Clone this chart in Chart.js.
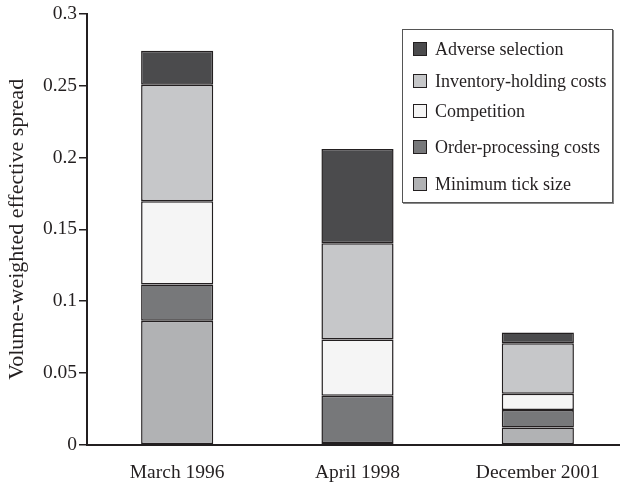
<!DOCTYPE html>
<html>
<head>
<meta charset="utf-8">
<script src="https://cdn.jsdelivr.net/npm/chart.js@4"></script>
<style>
  html, body { margin: 0; padding: 0; background: #fff; overflow: hidden; }
  #wrap { position: relative; width: 628px; height: 483px; }
  #legend {
    position: absolute; left: 402px; top: 29px; width: 209px; height: 172px;
    border: 1.5px solid #555; box-shadow: 1px 1px 0 #888;
    font-family: "Liberation Serif", "DejaVu Serif", serif; font-size: 18px; color: #231f20;
  }
  .item { position: absolute; left: 10px; display: flex; align-items: center; line-height: 20px; }
  .swatch { width: 12px; height: 12px; border: 1.5px solid #231f20; margin-right: 8px; }
</style>
</head>
<body>
<div id="wrap">
  <canvas id="myChart"></canvas>
  <div id="legend"></div>
</div>
<script>
// categories and values
const periods = ['March 1996', 'April 1998', 'December 2001'];
const minTick = [0.0865, 0.0014, 0.0122];
const orderProcessing = [0.0252, 0.0328, 0.0122];
const competition = [0.0579, 0.0391, 0.0112];
const inventoryHolding = [0.0809, 0.0670, 0.0351];
const adverseSelection = [0.0237, 0.0656, 0.0075];

const yTicks = [0, 0.05, 0.1, 0.15, 0.2, 0.25, 0.3];

// stacked bottom to top
let series = [
  { label: 'Minimum tick size', data: minTick, color: '#b1b2b4' },
  { label: 'Order-processing costs', data: orderProcessing, color: '#77787a' },
  { label: 'Competition', data: competition, color: '#f5f5f5' },
  { label: 'Inventory-holding costs', data: inventoryHolding, color: '#c6c7c9' },
  { label: 'Adverse selection', data: adverseSelection, color: '#4b4b4d' }
];

const serif = '"Liberation Serif", "DejaVu Serif", serif';

let ctx = document.getElementById('myChart').getContext('2d');
let myChart = new Chart(ctx, {
  type: 'bar',
  data: {
    labels: periods,
    datasets: series.map(s => ({
      label: s.label,
      data: s.data,
      backgroundColor: s.color,
      borderColor: '#231f20',
      borderWidth: 1.5,
      borderSkipped: false,
      barPercentage: 0.4,
      categoryPercentage: 1
    }))
  },
  options: {
    responsive: true,
    maintainAspectRatio: false,
    animation: false,
    layout: { padding: { top: 8, right: 0, left: 0, bottom: 0 } },
    plugins: {
      legend: { display: false },
      tooltip: { enabled: false }
    },
    scales: {
      x: {
        stacked: true,
        grid: { display: false },
        border: { display: true, color: '#231f20', width: 2 },
        ticks: { color: '#231f20', font: { family: serif, size: 19.5 }, padding: 8 },
        afterFit: s => { s.height = 38; }
      },
      y: {
        stacked: true,
        min: 0,
        max: 0.3,
        afterBuildTicks: s => { s.ticks = yTicks.map(v => ({ value: v })); },
        grid: { drawOnChartArea: false, drawTicks: true, tickLength: 8, color: '#231f20', lineWidth: 1.5 },
        border: { display: true, color: '#231f20', width: 2 },
        ticks: {
          color: '#231f20',
          font: { family: serif, size: 19.5 },
          padding: 2,
          callback: v => String(v)
        },
        title: {
          display: true,
          text: 'Volume-weighted effective spread',
          color: '#231f20',
          font: { family: serif, size: 22 },
          padding: { top: 4, bottom: 4 }
        },
        afterFit: s => { s.width = 87; }
      }
    }
  }
});

// legend box, top row = top of the stack
let legendDiv = document.getElementById('legend');
let rowsY = [9, 41, 71, 107, 144];
series.slice().reverse().forEach((s, i) => {
  let item = document.createElement('div');
  item.className = 'item';
  item.style.top = rowsY[i] + 'px';
  let sw = document.createElement('div');
  sw.className = 'swatch';
  sw.style.background = s.color;
  item.appendChild(sw);
  item.appendChild(document.createTextNode(s.label));
  legendDiv.appendChild(item);
});
</script>
</body>
</html>
